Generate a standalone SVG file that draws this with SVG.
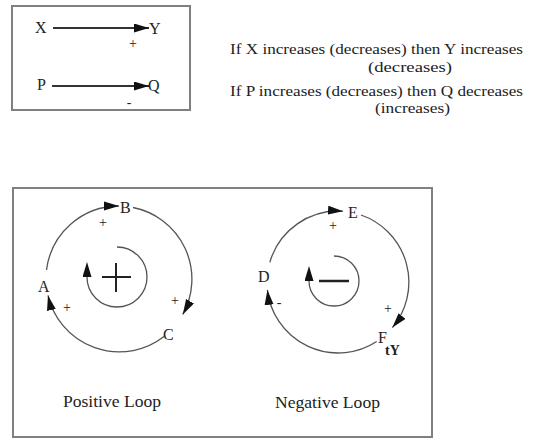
<svg xmlns="http://www.w3.org/2000/svg" width="540" height="439" viewBox="0 0 540 439">
<style>
text{font-family:"Liberation Serif","Times New Roman","DejaVu Serif",serif;fill:#222;}
.lbl{font-size:16px;}
.note{font-size:15px;}
.sg{font-size:14px;text-anchor:middle;}
.box{fill:none;stroke:#808080;stroke-width:2;}
.c{fill:none;stroke:#555;stroke-width:1.3;}
.k{fill:none;stroke:#333;stroke-width:1.8;}
.sym{stroke:#222;stroke-width:2;fill:none;}
</style>
<defs>
<marker id="ah" markerUnits="userSpaceOnUse" markerWidth="16" markerHeight="10" refX="15" refY="4.5" orient="auto">
<path d="M0,0 L15,4.5 L0,9 z" fill="#111"/>
</marker>
<marker id="ai" markerUnits="userSpaceOnUse" markerWidth="16" markerHeight="10" refX="0" refY="4.5" orient="auto">
<path d="M0,0 L15,4.5 L0,9 z" fill="#111"/>
</marker>
</defs>
<rect width="540" height="439" fill="#fff"/>

<rect class="box" x="12" y="6" width="178" height="104"/>
<rect class="box" x="13" y="188" width="419" height="249"/>

<g id="connectors">
<line class="k" x1="53" y1="28" x2="149" y2="28" marker-end="url(#ah)"/>
<line class="k" x1="52" y1="86" x2="149" y2="86" marker-end="url(#ah)"/>
<path class="c" d="M46.5,270 A73,73 0 0 1 119,206" marker-end="url(#ah)"/>
<path class="c" d="M133,207.5 A73,73 0 0 1 182.8,314.4" marker-end="url(#ah)"/>
<path class="c" d="M164,336.5 A73,73 0 0 1 48,295.4" marker-end="url(#ah)"/>
<path class="c" d="M117,247 A30,30 0 1 1 87,277" marker-end="url(#ai)"/>
<path class="c" d="M269.8,262.4 A71,71 0 0 1 343,211.2" marker-end="url(#ah)"/>
<path class="c" d="M361,215 A71,71 0 0 1 392.4,327.6" marker-end="url(#ah)"/>
<path class="c" d="M376.7,341.5 A71,71 0 0 1 267.4,289.9" marker-end="url(#ah)"/>
<path class="c" d="M334,256 A25,25 0 1 1 309,281" marker-end="url(#ai)"/>
</g>

<g id="node-X"><text class="lbl" x="35" y="33">X</text></g>
<g id="node-Y"><text class="lbl" x="149" y="34">Y</text></g>
<g id="node-P"><text class="lbl" x="37" y="90">P</text></g>
<g id="node-Q"><text class="lbl" x="148" y="91">Q</text></g>
<text class="sg" x="133" y="48">+</text>
<text class="sg" x="129" y="107">-</text>

<g id="notes">
<text class="note" x="230" y="54" textLength="293" lengthAdjust="spacingAndGlyphs">If X increases (decreases) then Y increases</text>
<text class="note" x="368" y="72" textLength="84" lengthAdjust="spacingAndGlyphs">(decreases)</text>
<text class="note" x="230" y="96" textLength="293" lengthAdjust="spacingAndGlyphs">If P increases (decreases) then Q decreases</text>
<text class="note" x="375" y="113" textLength="75" lengthAdjust="spacingAndGlyphs">(increases)</text>
</g>

<g id="node-A"><text class="lbl" x="38" y="292">A</text></g>
<g id="node-B"><text class="lbl" x="120" y="213">B</text></g>
<g id="node-C"><text class="lbl" x="163" y="340">C</text></g>
<text class="sg" x="103" y="227">+</text>
<text class="sg" x="67" y="312">+</text>
<text class="sg" x="175" y="305">+</text>
<g id="plus-sign">
<line class="sym" x1="102" y1="277" x2="131" y2="277"/>
<line class="sym" x1="116" y1="263" x2="116" y2="292"/>
</g>
<text class="lbl" x="63" y="407" textLength="98" lengthAdjust="spacingAndGlyphs">Positive Loop</text>

<g id="node-D"><text class="lbl" x="258" y="282">D</text></g>
<g id="node-E"><text class="lbl" x="348" y="218">E</text></g>
<g id="node-F"><text class="lbl" x="378" y="343">F</text></g>
<text x="385" y="355" style="font-size:14px;font-weight:bold">tY</text>
<text class="sg" x="333" y="230">+</text>
<text class="sg" x="388" y="313">+</text>
<text class="sg" x="279" y="307">-</text>
<g id="minus-sign">
<line class="sym" x1="319" y1="281" x2="349" y2="281" style="stroke-width:2.5"/>
</g>
<text class="lbl" x="275" y="408" textLength="105" lengthAdjust="spacingAndGlyphs">Negative Loop</text>
</svg>
